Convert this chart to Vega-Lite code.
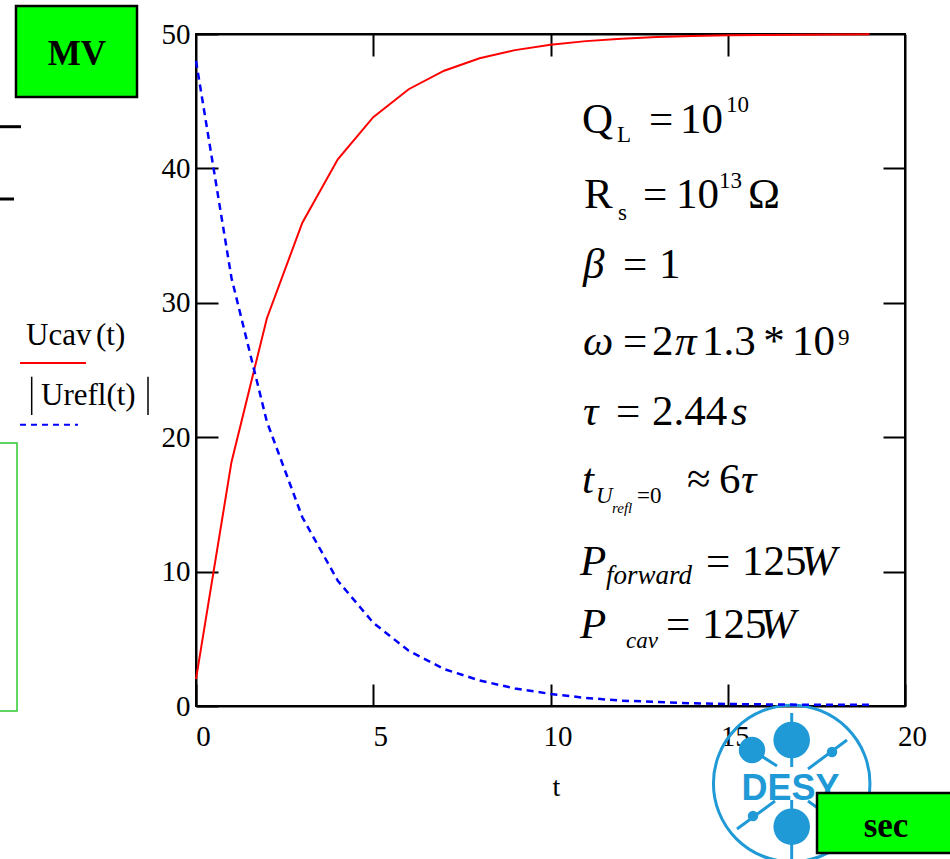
{
  "$schema": "https://vega.github.io/schema/vega-lite/v6.json",
  "width": 709,
  "height": 672,
  "autosize": {"type": "none"},
  "padding": {"left": 196, "top": 34, "right": 45, "bottom": 153},
  "background": "white",
  "config": {
    "view": {"stroke": "black", "strokeWidth": 2},
    "axis": {"grid": false, "domainColor": "black", "domainWidth": 2, "tickColor": "black", "tickWidth": 2, "labelColor": "black", "labelFont": "Liberation Serif", "labelFontSize": 29, "labelFlush": false, "labelOverlap": false, "zindex": 1}
  },
  "datasets": {
    "ucav": [
      {"t": 0, "v": 2.0}, {"t": 1, "v": 18.14}, {"t": 2, "v": 28.85}, {"t": 3, "v": 35.96},
      {"t": 4, "v": 40.68}, {"t": 5, "v": 43.81}, {"t": 6, "v": 45.89}, {"t": 7, "v": 47.27},
      {"t": 8, "v": 48.19}, {"t": 9, "v": 48.8}, {"t": 10, "v": 49.2}, {"t": 11, "v": 49.47},
      {"t": 12, "v": 49.65}, {"t": 13, "v": 49.77}, {"t": 14, "v": 49.85}, {"t": 15, "v": 49.9},
      {"t": 16, "v": 49.93}, {"t": 17, "v": 49.95}, {"t": 18, "v": 49.97}, {"t": 19, "v": 49.98}
    ],
    "urefl": [
      {"t": 0, "v": 48.0}, {"t": 1, "v": 31.86}, {"t": 2, "v": 21.15}, {"t": 3, "v": 14.04},
      {"t": 4, "v": 9.32}, {"t": 5, "v": 6.19}, {"t": 6, "v": 4.11}, {"t": 7, "v": 2.75},
      {"t": 8, "v": 1.9}, {"t": 9, "v": 1.3}, {"t": 10, "v": 0.9}, {"t": 11, "v": 0.6},
      {"t": 12, "v": 0.4}, {"t": 13, "v": 0.3}, {"t": 14, "v": 0.2}, {"t": 15, "v": 0.15},
      {"t": 16, "v": 0.12}, {"t": 17, "v": 0.1}, {"t": 18, "v": 0.1}, {"t": 19, "v": 0.1}
    ],
    "mathUpright": [
      {"s": "Q", "t": 10.889, "v": 42.634}, {"s": "=", "t": 12.779, "v": 42.634}, {"s": "10", "t": 13.653, "v": 42.634},
      {"s": "R", "t": 10.945, "v": 37.054}, {"s": "=", "t": 12.609, "v": 37.054}, {"s": "10", "t": 13.54, "v": 37.054}, {"s": "Ω", "t": 15.572, "v": 37.054},
      {"s": "=", "t": 12.045, "v": 31.845}, {"s": "1", "t": 13.061, "v": 31.845},
      {"s": "=", "t": 12.045, "v": 26.116}, {"s": "2", "t": 12.863, "v": 26.116}, {"s": "1.3", "t": 14.274, "v": 26.116}, {"s": "*", "t": 16.0, "v": 26.116}, {"s": "10", "t": 16.812, "v": 26.116},
      {"s": "=", "t": 11.848, "v": 20.908}, {"s": "2.44", "t": 12.863, "v": 20.908},
      {"s": "≈", "t": 13.85, "v": 15.848}, {"s": "6", "t": 14.753, "v": 15.848},
      {"s": "=", "t": 14.386, "v": 9.747}, {"s": "125", "t": 15.402, "v": 9.747},
      {"s": "=", "t": 13.258, "v": 5.06}, {"s": "125", "t": 14.274, "v": 5.06}
    ],
    "mathItalic": [
      {"s": "β", "t": 10.917, "v": 31.845}, {"s": "ω", "t": 10.917, "v": 26.116}, {"s": "π", "t": 13.512, "v": 26.116},
      {"s": "τ", "t": 10.917, "v": 20.908}, {"s": "s", "t": 15.092, "v": 20.908},
      {"s": "t", "t": 10.889, "v": 15.848}, {"s": "τ", "t": 15.374, "v": 15.848},
      {"s": "P", "t": 10.832, "v": 9.747}, {"s": "W", "t": 17.066, "v": 9.747},
      {"s": "P", "t": 10.832, "v": 5.06}, {"s": "W", "t": 15.91, "v": 5.06}
    ],
    "scriptUpright": [
      {"s": "L", "t": 11.876, "v": 41.964}, {"s": "10", "t": 14.951, "v": 44.196},
      {"s": "s", "t": 11.904, "v": 36.161}, {"s": "13", "t": 14.753, "v": 38.542},
      {"s": "9", "t": 18.11, "v": 26.86}, {"s": "=0", "t": 12.44, "v": 15.104}
    ],
    "scriptItalic": [
      {"s": "U", "t": 11.283, "v": 15.104}, {"s": "cav", "t": 12.13, "v": 4.315}
    ],
    "scriptItalicWide": [
      {"s": "forward", "t": 11.566, "v": 9.077}
    ],
    "scriptItalicTiny": [
      {"s": "refl", "t": 11.735, "v": 14.36}
    ],
    "legendText": [
      {"s": "Ucav", "t": -4.795, "v": 26.86}, {"s": "(t)", "t": -2.821, "v": 26.86},
      {"s": "Urefl(t)", "t": -4.372, "v": 22.396}
    ],
    "legendBars": [
      {"t": -4.635, "v": 24.5, "v2": 21.65}, {"t": -1.354, "v": 24.5, "v2": 21.65}
    ],
    "sideFragments": [
      {"t": -5.6, "t2": -4.937, "v": 43.103}, {"t": -5.6, "t2": -5.134, "v": 37.723}
    ],
    "sidePanel": [
      {"t": -5.7, "t2": -5.049, "v": 19.568, "v2": -0.372}
    ],
    "unitBoxes": [
      {"t": -5.078, "t2": -1.664, "v": 52.083, "v2": 45.313},
      {"t": 17.518, "t2": 21.5, "v": -6.473, "v2": -10.938}
    ],
    "unitLabels": [
      {"s": "MV", "t": -3.357, "v": 47.693},
      {"s": "sec", "t": 19.464, "v": -9.747}
    ],
    "logoRing": [{"t": 16.804, "v": -5.766}],
    "logoBig": [{"t": 16.804, "v": -2.53}, {"t": 16.804, "v": -8.981}],
    "logoMid": [{"t": 15.684, "v": -3.274}],
    "logoSmall": [{"t": 17.941, "v": -3.423}, {"t": 15.712, "v": -8.185}],
    "logoSpokes": [
      {"t": 16.804, "t2": 16.804, "v": -0.521, "v2": -4.539},
      {"t": 16.804, "t2": 16.804, "v": -6.994, "v2": -11.384},
      {"t": 15.684, "t2": 16.389, "v": -3.274, "v2": -4.464},
      {"t": 18.364, "t2": 17.264, "v": -2.53, "v2": -4.688},
      {"t": 15.261, "t2": 16.333, "v": -9.152, "v2": -7.068},
      {"t": 17.264, "t2": 18.364, "v": -7.068, "v2": -9.152}
    ],
    "logoWord": [{"s": "DESY", "t": 16.77, "v": -6.994}]
  },
  "encoding": {
    "x": {"field": "t", "type": "quantitative", "scale": {"domain": [0, 20], "nice": false, "zero": false}, "axis": null},
    "y": {"field": "v", "type": "quantitative", "scale": {"domain": [0, 50], "nice": false, "zero": false}, "axis": null}
  },
  "layer": [
    {
      "data": {"name": "logoSpokes"},
      "mark": {"type": "rule", "stroke": "#1f9ad6", "strokeWidth": 3},
      "encoding": {"x2": {"field": "t2"}, "y2": {"field": "v2"}}
    },
    {
      "data": {"name": "logoRing"},
      "mark": {"type": "point", "shape": "circle", "filled": false, "stroke": "#1f9ad6", "strokeWidth": 3, "size": 24500, "opacity": 1}
    },
    {
      "data": {"name": "logoBig"},
      "mark": {"type": "point", "shape": "circle", "filled": true, "color": "#1f9ad6", "size": 1340, "opacity": 1}
    },
    {
      "data": {"name": "logoMid"},
      "mark": {"type": "point", "shape": "circle", "filled": true, "color": "#1f9ad6", "size": 700, "opacity": 1}
    },
    {
      "data": {"name": "logoSmall"},
      "mark": {"type": "point", "shape": "circle", "filled": true, "color": "#1f9ad6", "size": 110, "opacity": 1}
    },
    {
      "data": {"name": "logoWord"},
      "mark": {"type": "text", "font": "Liberation Sans", "fontWeight": "bold", "fontSize": 36, "align": "center", "baseline": "alphabetic", "fill": "#1f9ad6"},
      "encoding": {"text": {"field": "s"}}
    },
    {
      "data": {"name": "ucav"},
      "mark": {"type": "line", "color": "#ff0000", "strokeWidth": 2},
      "encoding": {
        "x": {"field": "t", "type": "quantitative", "scale": {"domain": [0, 20], "nice": false, "zero": false},
          "axis": {"orient": "bottom", "values": [0, 5, 10, 15, 20], "tickSize": -22, "labelPadding": 38, "labelOffset": 7,
            "title": "t", "titleFont": "Liberation Serif", "titleFontSize": 28, "titleFontWeight": "normal", "titleColor": "black",
            "titleX": 360, "titleY": 89, "titleBaseline": "alphabetic", "titleAlign": "center"}},
        "y": {"field": "v", "type": "quantitative", "scale": {"domain": [0, 50], "nice": false, "zero": false},
          "axis": {"orient": "left", "values": [0, 10, 20, 30, 40, 50], "tickSize": -22, "labelPadding": 28, "labelBaseline": "middle", "title": null}}
      }
    },
    {
      "data": {"name": "urefl"},
      "mark": {"type": "line", "color": "#0000ff", "strokeWidth": 2.5, "strokeDash": [7, 5]},
      "encoding": {
        "x": {"field": "t", "type": "quantitative", "scale": {"domain": [0, 20], "nice": false, "zero": false},
          "axis": {"orient": "top", "values": [5, 10, 15], "tickSize": -22, "labels": false, "title": null}},
        "y": {"field": "v", "type": "quantitative", "scale": {"domain": [0, 50], "nice": false, "zero": false},
          "axis": {"orient": "right", "values": [10, 20, 30, 40], "tickSize": -22, "labels": false, "title": null}}
      }
    },
    {
      "data": {"name": "mathUpright"},
      "mark": {"type": "text", "font": "Liberation Serif", "fontSize": 43, "align": "left", "baseline": "alphabetic", "fill": "black"},
      "encoding": {"text": {"field": "s"}}
    },
    {
      "data": {"name": "mathItalic"},
      "mark": {"type": "text", "font": "Liberation Serif", "fontStyle": "italic", "fontSize": 43, "align": "left", "baseline": "alphabetic", "fill": "black"},
      "encoding": {"text": {"field": "s"}}
    },
    {
      "data": {"name": "scriptUpright"},
      "mark": {"type": "text", "font": "Liberation Serif", "fontSize": 23, "align": "left", "baseline": "alphabetic", "fill": "black"},
      "encoding": {"text": {"field": "s"}}
    },
    {
      "data": {"name": "scriptItalic"},
      "mark": {"type": "text", "font": "Liberation Serif", "fontStyle": "italic", "fontSize": 23, "align": "left", "baseline": "alphabetic", "fill": "black"},
      "encoding": {"text": {"field": "s"}}
    },
    {
      "data": {"name": "scriptItalicWide"},
      "mark": {"type": "text", "font": "Liberation Serif", "fontStyle": "italic", "fontSize": 27, "align": "left", "baseline": "alphabetic", "fill": "black"},
      "encoding": {"text": {"field": "s"}}
    },
    {
      "data": {"name": "scriptItalicTiny"},
      "mark": {"type": "text", "font": "Liberation Serif", "fontStyle": "italic", "fontSize": 15, "align": "left", "baseline": "alphabetic", "fill": "black"},
      "encoding": {"text": {"field": "s"}}
    },
    {
      "data": {"name": "legendText"},
      "mark": {"type": "text", "font": "Liberation Serif", "fontSize": 31, "align": "left", "baseline": "alphabetic", "fill": "black"},
      "encoding": {"text": {"field": "s"}}
    },
    {
      "data": {"name": "legendBars"},
      "mark": {"type": "rule", "stroke": "black", "strokeWidth": 1.5},
      "encoding": {"y2": {"field": "v2"}}
    },
    {
      "data": {"values": [{"t": -4.965, "t2": -3.103, "v": 25.521}]},
      "mark": {"type": "rule", "stroke": "#ff0000", "strokeWidth": 2},
      "encoding": {"x2": {"field": "t2"}}
    },
    {
      "data": {"values": [{"t": -4.965, "t2": -3.329, "v": 20.93}]},
      "mark": {"type": "rule", "stroke": "#0000ff", "strokeWidth": 2, "strokeDash": [6, 5]},
      "encoding": {"x2": {"field": "t2"}}
    },
    {
      "data": {"name": "sideFragments"},
      "mark": {"type": "rule", "stroke": "black", "strokeWidth": 3},
      "encoding": {"x2": {"field": "t2"}}
    },
    {
      "data": {"name": "sidePanel"},
      "mark": {"type": "rect", "fill": null, "fillOpacity": 0, "stroke": "#2ec82e", "strokeWidth": 1.5},
      "encoding": {"x2": {"field": "t2"}, "y2": {"field": "v2"}}
    },
    {
      "data": {"name": "unitBoxes"},
      "mark": {"type": "rect", "fill": "#00ff00", "stroke": "black", "strokeWidth": 2.5},
      "encoding": {"x2": {"field": "t2"}, "y2": {"field": "v2"}}
    },
    {
      "data": {"name": "unitLabels"},
      "mark": {"type": "text", "font": "Liberation Serif", "fontWeight": "bold", "fontSize": 35, "align": "center", "baseline": "alphabetic", "fill": "black"},
      "encoding": {"text": {"field": "s"}}
    }
  ],
  "resolve": {"axis": {"x": "independent", "y": "independent"}}
}
